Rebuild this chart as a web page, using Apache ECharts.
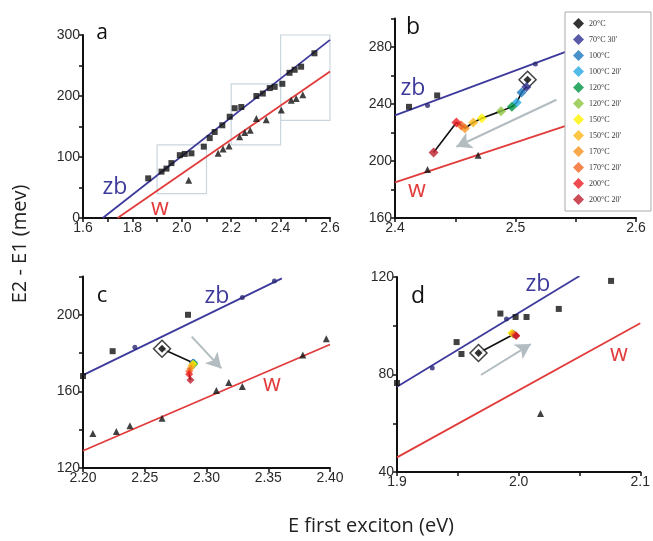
<!DOCTYPE html>
<html>
<head>
  <meta charset="utf-8" />
  <title>E2 - E1 vs E first exciton</title>
  <script src="https://cdn.jsdelivr.net/npm/echarts@6/dist/echarts.min.js"></script>
  <style>
    html, body { margin: 0; padding: 0; background: #fff; }
    #main { width: 653px; height: 541px; }
  </style>
</head>
<body>
<div id="main"></div>
<script>
  // legend / temperature steps
  let tempNames = ['20°C', "70°C 30'", '100°C', "100°C 20'", '120°C', "120°C 20'",
    '150°C', "150°C 20'", '170°C', "170°C 20'", '200°C', "200°C 20'"]
  let tempColors = ['#000000', '#2e3192', '#1b75bc', '#27aae1', '#009444', '#8dc63f',
    '#fff200', '#fbb917', '#f7941d', '#f26522', '#ed1c24', '#be1e2d']

  // panel a
  let aZbLine = [[1.68, 0], [2.6, 292]]
  let aWLine = [[1.74, 0], [2.6, 240]]
  let aZb = [[1.864, 65], [1.918, 76], [1.938, 81], [1.958, 90], [1.992, 103], [2.012, 105],
    [2.039, 106], [2.089, 117], [2.113, 131], [2.133, 141], [2.164, 152], [2.194, 166],
    [2.214, 180], [2.241, 182], [2.302, 200], [2.328, 204], [2.356, 213], [2.376, 215],
    [2.407, 220], [2.436, 238], [2.457, 243], [2.483, 248], [2.537, 270]]
  let aW = [[2.028, 62], [2.147, 106], [2.167, 113], [2.191, 118], [2.234, 133], [2.255, 140],
    [2.277, 144], [2.302, 163], [2.342, 161], [2.403, 177], [2.443, 193], [2.463, 196], [2.49, 202]]
  let aBoxes = [[[1.9, 40], [2.1, 120]], [[2.2, 120], [2.4, 220]], [[2.4, 160], [2.6, 300]]]

  // panel b
  let bZbLine = [[2.4, 232], [2.6, 295]]
  let bWLine = [[2.4, 185], [2.6, 241]]
  let bZb = [[2.4116, 238], [2.435, 246]]
  let bZbFit = [[2.427, 239], [2.5165, 268]]
  let bW = [[2.427, 194], [2.469, 204]]
  let bTemps = [[2.510, 257], [2.509, 252], [2.505, 248], [2.501, 241], [2.497, 238], [2.488, 235],
    [2.472, 230], [2.465, 227], [2.458, 223], [2.455, 225], [2.451, 227], [2.432, 206]]
  let bArrow = [[2.534, 243], [2.451, 210]]

  // panel c
  let cZbLine = [[2.2, 168.5], [2.361, 219]]
  let cWLine = [[2.2, 129], [2.4, 184.5]]
  let cZb = [[2.2, 168], [2.224, 181], [2.285, 200], [2.389, 221]]
  let cZbFit = [[2.242, 183], [2.329, 209], [2.355, 217.7]]
  let cW = [[2.208, 138], [2.227, 139], [2.238, 142], [2.264, 146], [2.308, 160.5], [2.318, 164.7],
    [2.329, 162.6], [2.378, 179], [2.397, 187.5]]
  let cTemps = [[2.264, 182.3], [2.289, 175], [2.289, 175], [2.290, 175], [2.290, 174.5], [2.290, 174],
    [2.289, 174.5], [2.288, 173.5], [2.287, 172], [2.286, 170.5], [2.286, 169], [2.287, 166]]
  let cArrow = [[2.288, 188.6], [2.312, 172]]

  // panel d
  let dZbLine = [[1.9, 75], [2.05, 120.4]]
  let dWLine = [[1.9, 46], [2.1, 101]]
  let dZb = [[1.9, 76.5], [1.949, 93.3], [1.953, 88.4], [1.985, 105], [1.9975, 103.6],
    [2.0065, 103.6], [2.033, 106.9], [2.076, 118.4]]
  let dZbFit = [[1.929, 82.7], [1.990, 102.8]]
  let dW = [[2.018, 64]]
  let dTemps = [[1.967, 88.8], [1.996, 96.5], [1.996, 96.5], [1.996, 96.6], [1.995, 96.7], [1.995, 96.8],
    [1.994, 97], [1.995, 96.8], [1.996, 96.5], [1.997, 96.3], [1.998, 96], [1.998, 95.8]]
  let dArrow = [[1.969, 79.8], [2.010, 92.5]]

  let zbColor = '#3d3a9c'
  let wColor = '#e23b3b'
  let axisColor = '#111'
  let labelFont = 'Liberation Sans'

  let grids = [
    { left: 83, top: 35, width: 247, height: 183 },
    { left: 395, top: 18.5, width: 241, height: 199.5 },
    { left: 83, top: 276.5, width: 247, height: 191.5 },
    { left: 397, top: 277, width: 246, height: 195 },
  ]

  function isStep(v, step) {
    let r = v / step
    return Math.abs(r - Math.round(r)) < 1e-6
  }

  function xAx(i, min, max, interval, labelStep, digits) {
    return {
      gridIndex: i, type: 'value', min: min, max: max, interval: interval,
      axisLine: { show: true, onZero: false, lineStyle: { color: axisColor, width: 2 } },
      axisTick: { show: true, length: 4, lineStyle: { color: axisColor, width: 1.5 } },
      splitLine: { show: false },
      axisLabel: {
        color: '#2a2a2a', fontSize: 14, fontFamily: labelFont, margin: 3,
        formatter: v => isStep(v, labelStep) ? v.toFixed(digits) : ''
      }
    }
  }

  function yAx(i, min, max, interval, labelStep) {
    return {
      gridIndex: i, type: 'value', min: min, max: max, interval: interval,
      axisLine: { show: true, onZero: false, lineStyle: { color: axisColor, width: 2 } },
      axisTick: { show: true, length: 4, lineStyle: { color: axisColor, width: 1.5 } },
      splitLine: { show: false },
      axisLabel: {
        color: '#2a2a2a', fontSize: 14, fontFamily: labelFont, margin: 3,
        formatter: v => isStep(v, labelStep) ? String(Math.round(v)) : ''
      }
    }
  }

  let series = []

  function addPanel(i, zbLine, wLine, zb, zbFit, w) {
    series.push({ type: 'line', xAxisIndex: i, yAxisIndex: i, data: zbLine, showSymbol: false, silent: true,
      lineStyle: { color: zbColor, width: 1.8 }, z: 2 })
    series.push({ type: 'line', xAxisIndex: i, yAxisIndex: i, data: wLine, showSymbol: false, silent: true,
      lineStyle: { color: wColor, width: 1.8 }, z: 2 })
    series.push({ type: 'scatter', xAxisIndex: i, yAxisIndex: i, data: zb, symbol: 'rect', symbolSize: 6,
      itemStyle: { color: '#111' }, z: 3 })
    if (zbFit) {
      series.push({ type: 'scatter', xAxisIndex: i, yAxisIndex: i, data: zbFit, symbol: 'circle', symbolSize: 5,
        itemStyle: { color: '#2a2870' }, z: 3 })
    }
    series.push({ type: 'scatter', xAxisIndex: i, yAxisIndex: i, data: w, symbol: 'triangle', symbolSize: 7,
      itemStyle: { color: '#111' }, z: 3 })
  }

  function addTemps(i, temps, arrow, size) {
    series.push({ type: 'line', xAxisIndex: i, yAxisIndex: i, data: [],
      markLine: {
        silent: true, symbol: ['none', 'arrow'], symbolSize: [13, 15], animation: false,
        lineStyle: { color: '#b2bcc1', width: 2, type: 'solid' }, label: { show: false },
        data: [[{ coord: arrow[0] }, { coord: arrow[1] }]]
      }, z: 2 })
    series.push({ type: 'line', xAxisIndex: i, yAxisIndex: i, data: temps, showSymbol: false, silent: true,
      lineStyle: { color: '#111', width: 1.6 }, z: 4 })
    series.push({ type: 'scatter', xAxisIndex: i, yAxisIndex: i, data: [temps[0]], symbol: 'diamond',
      symbolSize: 17, silent: true, itemStyle: { color: '#fff', borderColor: '#111', borderWidth: 1.5 }, z: 5 })
    for (let k = 0; k < tempNames.length; k++) {
      series.push({ name: tempNames[k], type: 'scatter', xAxisIndex: i, yAxisIndex: i, data: [temps[k]],
        symbol: 'diamond', symbolSize: k === 0 ? 8 : size, itemStyle: { color: tempColors[k] }, z: 6 })
    }
  }

  addPanel(0, aZbLine, aWLine, aZb, null, aW)
  series.push({ type: 'line', xAxisIndex: 0, yAxisIndex: 0, data: [],
    markArea: {
      silent: true, itemStyle: { color: 'rgba(0,0,0,0)', borderColor: '#c9d6de', borderWidth: 1.2 },
      data: aBoxes.map(b => [{ coord: b[0] }, { coord: b[1] }])
    }, z: 1 })
  addPanel(1, bZbLine, bWLine, bZb, bZbFit, bW)
  addTemps(1, bTemps, bArrow, 10)
  addPanel(2, cZbLine, cWLine, cZb, cZbFit, cW)
  addTemps(2, cTemps, cArrow, 8)
  addPanel(3, dZbLine, dWLine, dZb, dZbFit, dW)
  addTemps(3, dTemps, dArrow, 8)

  function txt(s, x, y, size, color) {
    return { type: 'text', x: x, y: y, z: 10,
      style: { text: s, fill: color, font: size + 'px "Open Sans", sans-serif', align: 'center', verticalAlign: 'middle' } }
  }

  let graphics = [
    txt('a', 102, 33, 21, '#111'), txt('zb', 115, 187, 23, zbColor), txt('w', 160, 208, 23, wColor),
    txt('b', 413, 27, 23, '#111'), txt('zb', 413, 88, 23, zbColor), txt('w', 417, 190, 23, wColor),
    txt('c', 102, 296, 22, '#111'), txt('zb', 217, 296, 23, zbColor), txt('w', 272, 384, 23, wColor),
    txt('d', 418, 296, 23, '#111'), txt('zb', 538, 284, 23, zbColor), txt('w', 619, 354, 23, wColor),
    txt('E first exciton (eV)', 371, 526, 20, '#222'),
    { type: 'text', x: 20, y: 244, rotation: Math.PI / 2, z: 10,
      style: { text: 'E2 - E1 (mev)', fill: '#222', font: '20px "Open Sans", sans-serif', align: 'center', verticalAlign: 'middle' } },
  ]

  let chart = echarts.init(document.getElementById('main'))
  chart.setOption({
    animation: false,
    backgroundColor: '#fff',
    grid: grids,
    xAxis: [
      xAx(0, 1.6, 2.6, 0.1, 0.2, 1),
      xAx(1, 2.4, 2.6, 0.05, 0.1, 1),
      xAx(2, 2.2, 2.4, 0.05, 0.05, 2),
      xAx(3, 1.9, 2.1, 0.05, 0.1, 1),
    ],
    yAxis: [
      yAx(0, 0, 300, 50, 100),
      yAx(1, 160, 300, 20, 40),
      yAx(2, 120, 220, 20, 40),
      yAx(3, 40, 120, 20, 40),
    ],
    legend: {
      data: tempNames, orient: 'vertical', left: 565, top: 12,
      itemWidth: 11, itemHeight: 11, itemGap: 5, icon: 'diamond',
      backgroundColor: '#fff', borderColor: '#aaa', borderWidth: 1, padding: [6, 30, 6, 8],
      textStyle: { fontSize: 8, fontFamily: 'Liberation Serif', color: '#333' },
      selectedMode: false
    },
    graphic: graphics,
    series: series
  })
</script>
</body>
</html>
